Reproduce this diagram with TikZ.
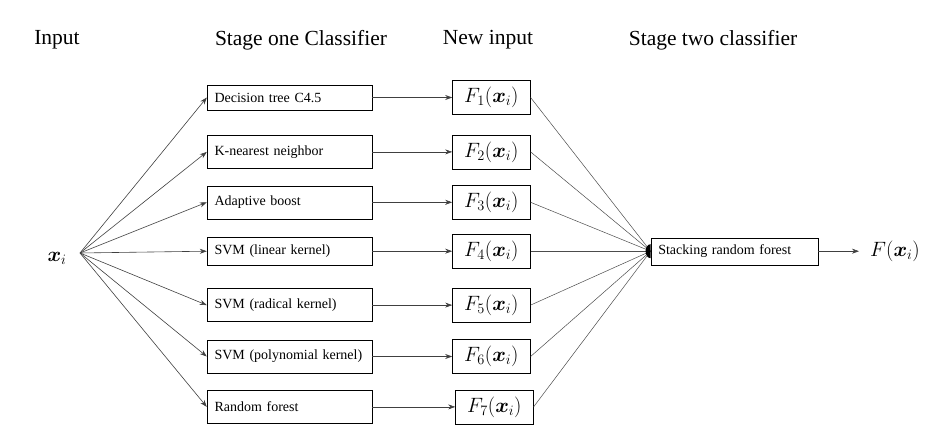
\documentclass[tikz,border=0pt]{standalone}
\usepackage{amsmath}
\usepackage{fontspec}
\setmainfont{Liberation Serif}
\usetikzlibrary{arrows.meta, positioning}
\tikzstyle{learner} = [
rectangle,
minimum width=165pt,
minimum height=33pt,
text width=150pt,
align=left,
draw=black,
thin,
font=\fontsize{14}{16}\selectfont
]
\tikzstyle{output} = [
rectangle,
minimum width=78pt,
minimum height=34pt,
inner sep=2pt,
draw=black,
thin,
font=\fontsize{21}{24}\selectfont
]
\tikzstyle{stackbox} = [
rectangle,
minimum width=167pt,
minimum height=27pt,
text width=152pt,
align=left,
draw=black,
thin,
font=\fontsize{14}{16}\selectfont
]
\tikzstyle{heading} = [
font=\fontsize{21.5}{24}\selectfont
]
\tikzstyle{arrow} = [
draw=black!75,
line width=0.6pt,
-{Stealth[length=7pt,width=5pt]}
]
\tikzstyle{link} = [
draw=black!70,
line width=0.5pt
]

\begin{document}
\begin{tikzpicture}[x=1pt,y=-1pt]
			\useasboundingbox (0,0) rectangle (943,436);
			
			\node (h1) [heading] at (57,40) {Input};
			\node (h2) [heading] at (301,40) {Stage one Classifier};
			\node (h3) [heading] at (488,40) {New input};
			\node (h4) [heading] at (713,40) {Stage two classifier};
			
			\node (xin) at (57,258) {\fontsize{21}{24}\selectfont$\boldsymbol{x}_i$};
			\coordinate (fan) at (80,253);
			
			\node (m1) [learner, minimum height=25pt] at (289.5,97.5) {Decision tree C4.5};
			\node (m2) [learner, below=25pt of m1] {K-nearest neighbor};
			\node (m3) [learner, below=17pt of m2] {Adaptive boost};
			\node (m4) [learner, minimum height=28pt, below=18pt of m3] {SVM (linear kernel)};
			\node (m5) [learner, below=23pt of m4] {SVM (radical kernel)};
			\node (m6) [learner, below=18pt of m5] {SVM (polynomial kernel)};
			\node (m7) [learner, below=17pt of m6] {Random forest};
			
			\node (f1) [output, right=80pt of m1] {$F_1(\boldsymbol{x}_i)$};
			\node (f2) [output, right=80pt of m2] {$F_2(\boldsymbol{x}_i)$};
			\node (f3) [output, right=80pt of m3] {$F_3(\boldsymbol{x}_i)$};
			\node (f4) [output, right=80pt of m4] {$F_4(\boldsymbol{x}_i)$};
			\node (f5) [output, right=80pt of m5] {$F_5(\boldsymbol{x}_i)$};
			\node (f6) [output, right=80pt of m6] {$F_6(\boldsymbol{x}_i)$};
			\node (f7) [output, right=83pt of m7] {$F_7(\boldsymbol{x}_i)$};
			
			\node (stack) [stackbox, right=120pt of f4] {Stacking random forest};
			\node (out) [right=41pt of stack, inner xsep=11pt, font=\fontsize{22}{24}\selectfont] {$F(\boldsymbol{x}_i)$};
			
			\foreach \i in {1,...,7} {
				\draw [arrow] (fan) -- (m\i.west);
				\draw [arrow] (m\i) -- (f\i);
				\draw [link] (f\i.east) -- (stack.west);
			}
			
			\fill ([yshift=7pt]stack.west) arc[start angle=90, end angle=270, x radius=5pt, y radius=7pt] -- cycle;
			\draw [arrow] (stack) -- (out);
			
		\end{tikzpicture}
\end{document}
